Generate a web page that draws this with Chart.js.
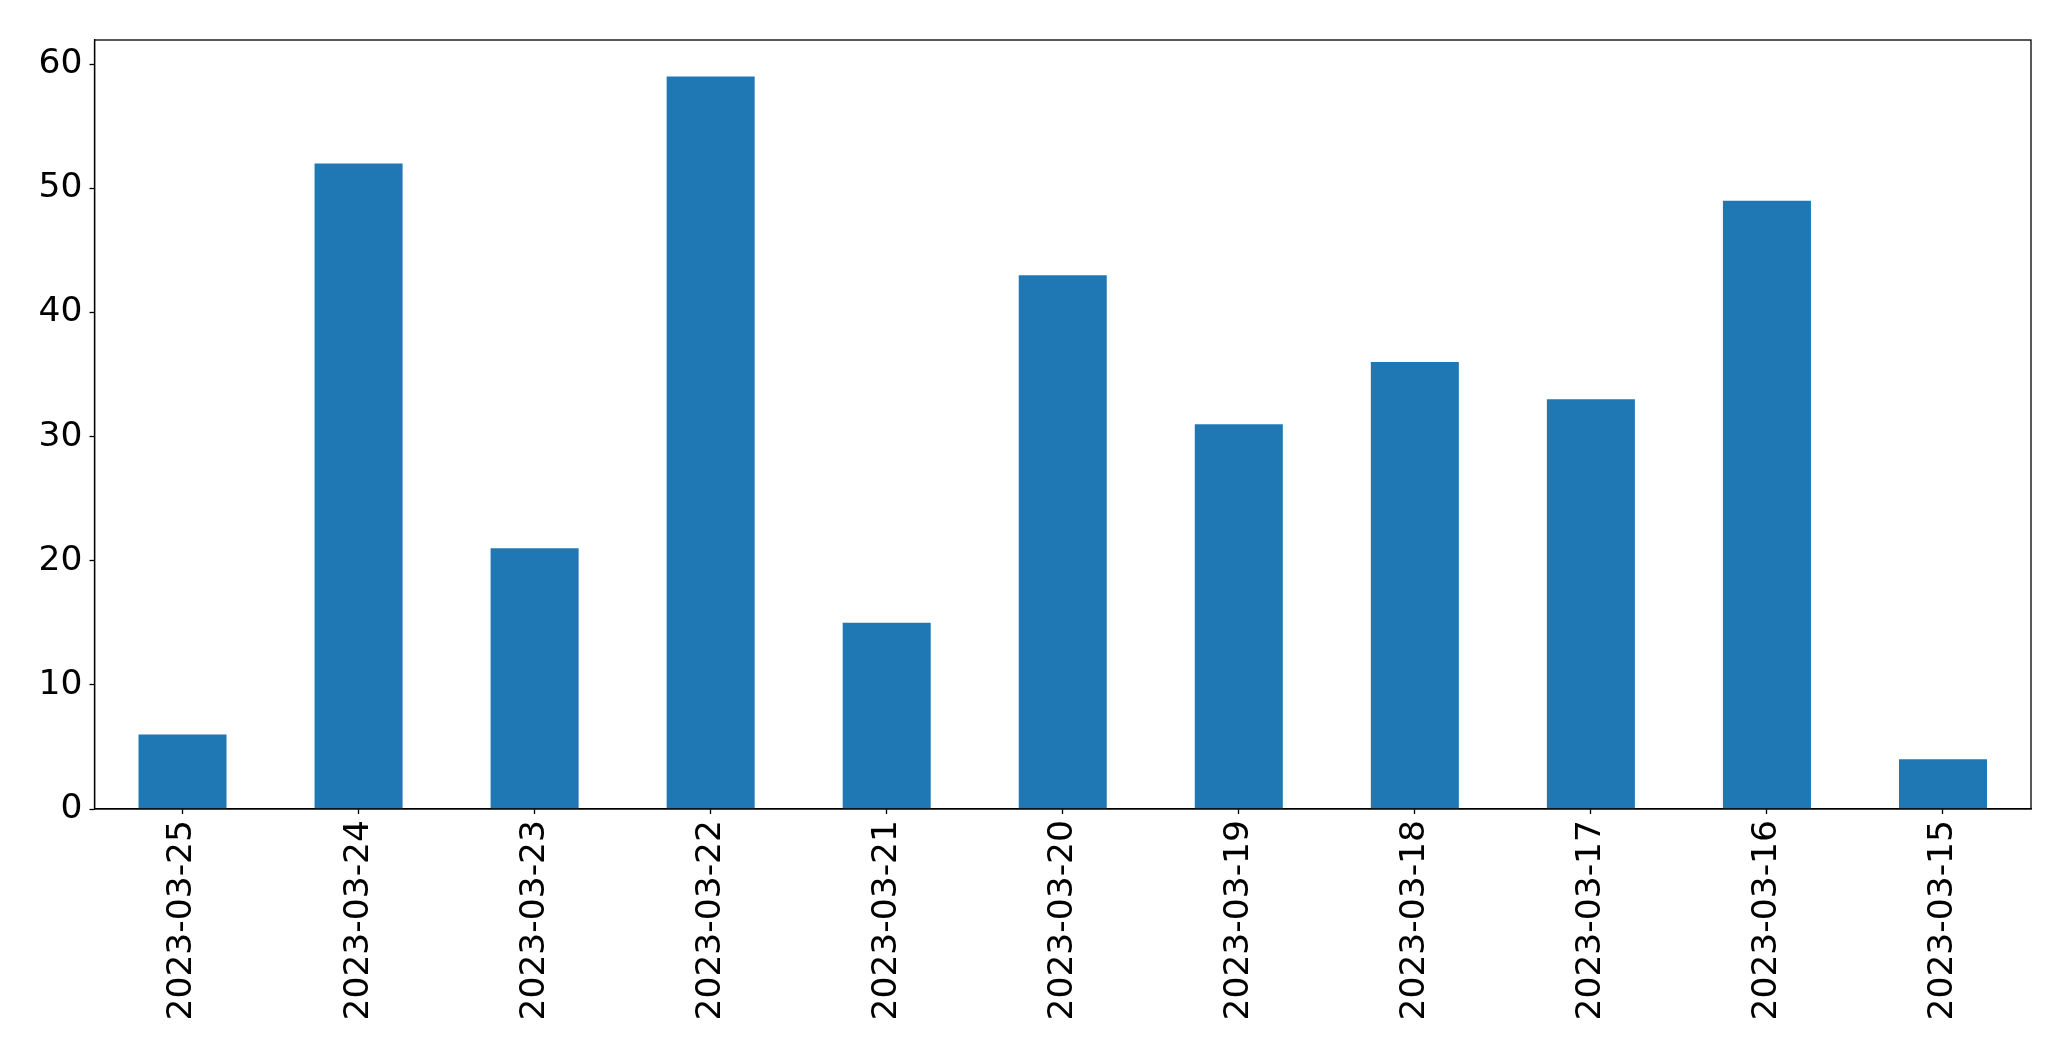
<!DOCTYPE html>
<html>
<head>
<meta charset="utf-8">
<script src="https://cdn.jsdelivr.net/npm/chart.js@4/dist/chart.umd.min.js"></script>
<style>
  html, body { margin: 0; padding: 0; background: #fff; }
  #wrap { width: 2071px; height: 1061px; }
</style>
</head>
<body>
<div id="wrap"><canvas id="chart"></canvas></div>
<script>
// data
const dates = ['2023-03-25', '2023-03-24', '2023-03-23', '2023-03-22', '2023-03-21', '2023-03-20',
    '2023-03-19', '2023-03-18', '2023-03-17', '2023-03-16', '2023-03-15']
const counts = [6, 52, 21, 59, 15, 43, 31, 36, 33, 49, 4]
const yTicks = [0, 10, 20, 30, 40, 50, 60]

// closes the box round the plot (top and right spines)
const frame = {
    id: 'frame',
    afterDraw(chart) {
        const { ctx, chartArea: a } = chart
        ctx.save()
        ctx.strokeStyle = '#000'
        ctx.lineWidth = 1.3
        ctx.strokeRect(a.left, a.top, a.right - a.left, a.bottom - a.top)
        ctx.restore()
    }
}

Chart.defaults.font.family = '"DejaVu Sans", sans-serif'
Chart.defaults.font.size = 34.5
Chart.defaults.color = '#000'

const ctx = document.getElementById('chart').getContext('2d')
const myChart = new Chart(ctx, {
    type: 'bar',
    data: {
        labels: dates,
        datasets: [{
            data: counts,
            backgroundColor: '#1f77b4',
            borderWidth: 0,
            categoryPercentage: 1,
            barPercentage: 0.5
        }]
    },
    options: {
        responsive: true,
        maintainAspectRatio: false,
        animation: false,
        layout: { padding: { top: 40, right: 40, left: 0, bottom: 0 } },
        plugins: {
            legend: { display: false },
            tooltip: { enabled: false }
        },
        scales: {
            x: {
                offset: true,
                grid: { display: true, offset: false, drawOnChartArea: false, tickLength: 5, tickColor: '#000', tickWidth: 1.3 },
                border: { display: true, color: '#000', width: 1.3 },
                ticks: { minRotation: 90, maxRotation: 90, padding: 6, autoSkip: false },
                afterFit(scale) { scale.height = 252 }
            },
            y: {
                min: 0,
                max: 61.95,
                afterBuildTicks(scale) { scale.ticks = yTicks.map(v => ({ value: v })) },
                grid: { display: true, drawOnChartArea: false, tickLength: 5, tickColor: '#000', tickWidth: 1.3 },
                border: { display: true, color: '#000', width: 1.3 },
                ticks: { padding: 7 },
                afterFit(scale) { scale.width = 94.5 }
            }
        }
    },
    plugins: [frame]
})
</script>
</body>
</html>
